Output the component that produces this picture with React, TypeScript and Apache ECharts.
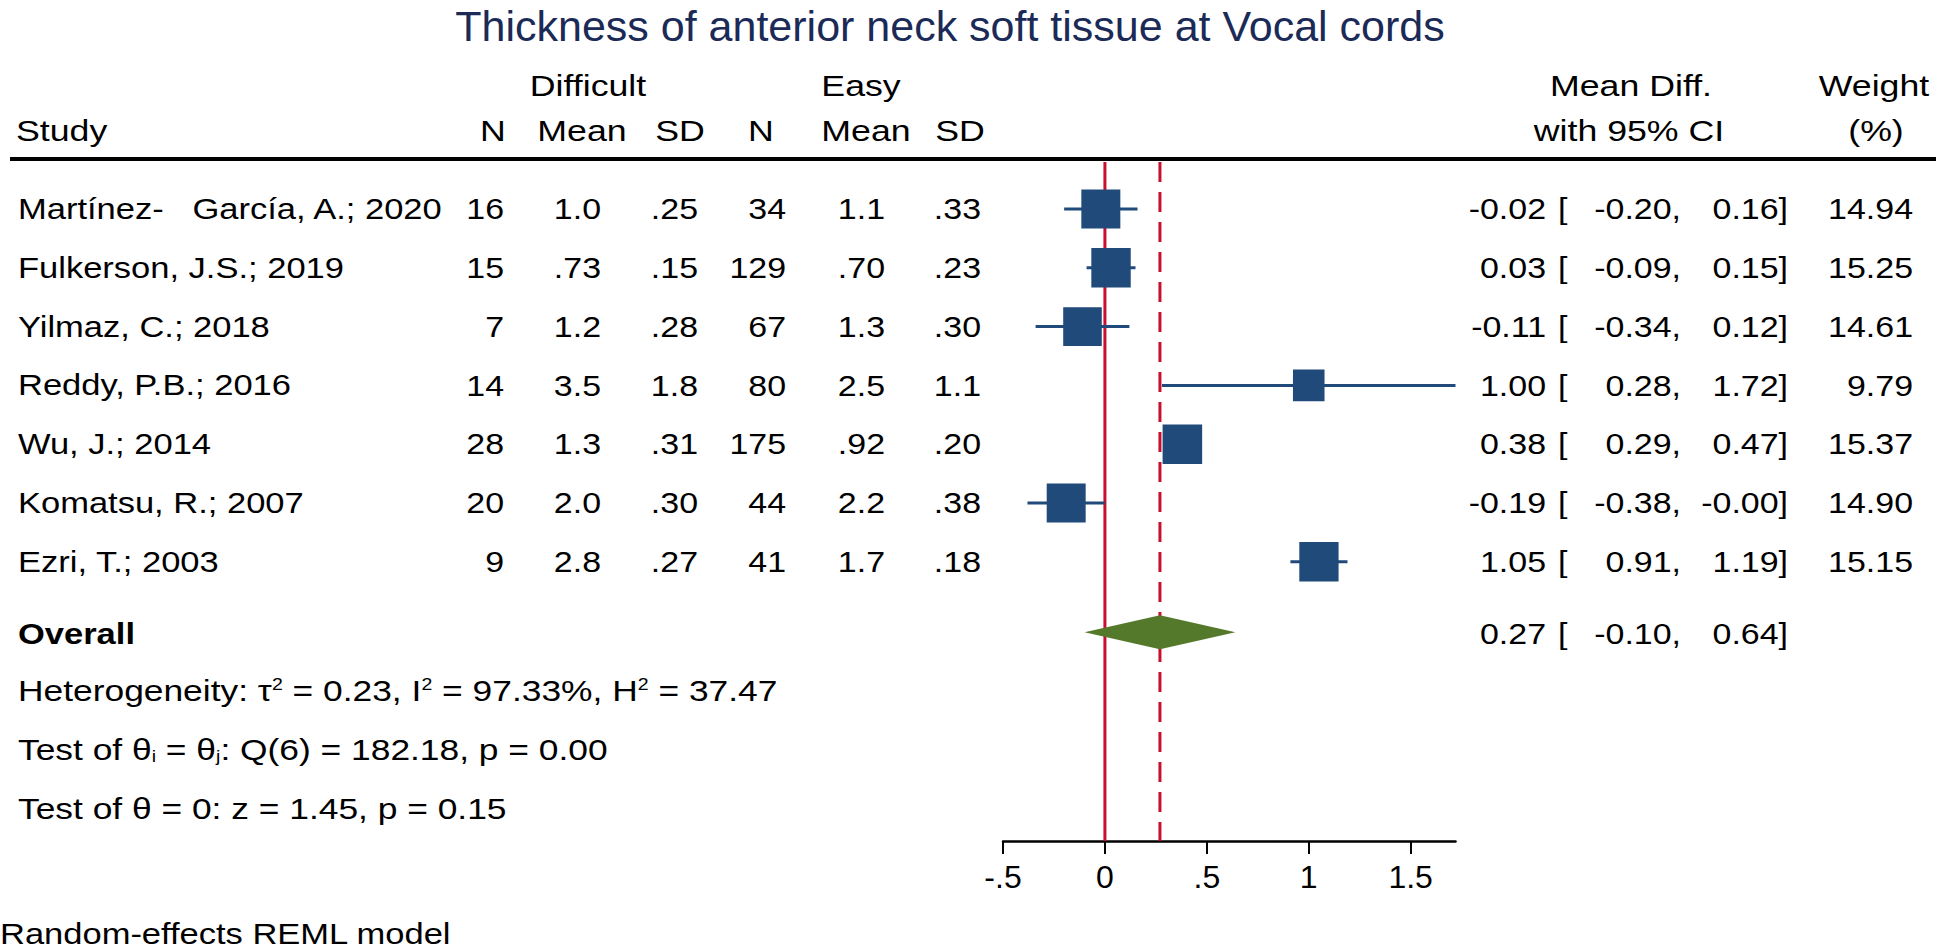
import React, { useEffect, useRef } from "react";
import * as echarts from "echarts";

// ---------- data ----------
const chartTitle = "Thickness of anterior neck soft tissue at Vocal cords";
const studies = [
  "Martínez-   García, A.; 2020",
  "Fulkerson, J.S.; 2019",
  "Yilmaz, C.; 2018",
  "Reddy, P.B.; 2016",
  "Wu, J.; 2014",
  "Komatsu, R.; 2007",
  "Ezri, T.; 2003",
];
const nDifficult = ["16", "15", "7", "14", "28", "20", "9"];
const meanDifficult = ["1.0", ".73", "1.2", "3.5", "1.3", "2.0", "2.8"];
const sdDifficult = [".25", ".15", ".28", "1.8", ".31", ".30", ".27"];
const nEasy = ["34", "129", "67", "80", "175", "44", "41"];
const meanEasy = ["1.1", ".70", "1.3", "2.5", ".92", "2.2", "1.7"];
const sdEasy = [".33", ".23", ".30", "1.1", ".20", ".38", ".18"];
const effects = [-0.02, 0.03, -0.11, 1.0, 0.38, -0.19, 1.05];
const lowers = [-0.2, -0.09, -0.34, 0.28, 0.29, -0.38, 0.91];
const uppers = [0.16, 0.15, 0.12, 1.72, 0.47, -0.0, 1.19];
const weights = [14.94, 15.25, 14.61, 9.79, 15.37, 14.9, 15.15];
const overallLabel = "Overall";
const overallEffect = 0.27;
const overallLower = -0.1;
const overallUpper = 0.64;
const refLines = [0, 0.27]; // no effect, overall estimate
const xTickValues = [-0.5, 0, 0.5, 1, 1.5];
const xTickLabels = ["-.5", "0", ".5", "1", "1.5"];
const headerTop = ["Difficult", "Easy", "Mean Diff.", "Weight"];
const headerBottom = ["Study", "N", "Mean", "SD", "N", "Mean", "SD", "with 95% CI", "(%)"];
const noteText = "Random-effects REML model";

// ---------- layout ----------
const W = 1946;
const H = 949;
const FONT = "'Liberation Sans', Arial, Helvetica, sans-serif";
const FS = 29;
const SX = 1.19;
const Y_MIN = 0.2;
const Y_MAX = 11.75;
const OVERALL_ROW = 8.2;
const STATS_ROWS = [9.2, 10.2, 11.2];
const BOX_COLOR = "#1f4a7a";
const RED = "#c8102e";
const DIAMOND = "#55792b";

function fmt(v: number) {
  const s = Math.abs(v).toFixed(2);
  return v < 0 || Object.is(v, -0) ? "-" + s : s;
}

function txt(x: number, y: number, text: string, align: string, extra: any = {}, sx = SX) {
  return {
    type: "text",
    x,
    y,
    scaleX: sx,
    scaleY: 1,
    style: {
      text,
      fill: "#000",
      fontSize: FS,
      fontFamily: FONT,
      align,
      textAlign: align,
      verticalAlign: "middle",
      textVerticalAlign: "middle",
      ...extra,
    },
  };
}

function ciTexts(y: number, est: number, lo: number, hi: number) {
  return [
    txt(1546, y, fmt(est), "right", {}, 1.17),
    txt(1558, y, "[", "left", {}, 1.17),
    txt(1681, y, fmt(lo) + ",", "right", {}, 1.17),
    txt(1788, y, fmt(hi) + "]", "right", {}, 1.17),
  ];
}

const subRich = {
  a: { fontSize: FS, fontFamily: FONT, fill: "#000", color: "#000" },
  s: { fontSize: 16, fontFamily: FONT, fill: "#000", color: "#000", verticalAlign: "top" },
  b: { fontSize: 16, fontFamily: FONT, fill: "#000", color: "#000", verticalAlign: "bottom" },
};
const statsLines = [
  "{a|Heterogeneity: τ}{s|2}{a| = 0.23, I}{s|2}{a| = 97.33%, H}{s|2}{a| = 37.47}",
  "{a|Test of θ}{b|i}{a| = θ}{b|j}{a|: Q(6) = 182.18, p = 0.00}",
  "{a|Test of θ = 0: z = 1.45, p = 0.15}",
];

export default function App() {
  const ref = useRef<HTMLDivElement>(null);
  useEffect(() => {
    if (!ref.current) return;
    const chart = echarts.init(ref.current, null, { renderer: "svg" });
    const rows = studies.map((_, i) => i + 1);

    const option: any = {
      animation: false,
      backgroundColor: "#fff",
      grid: { left: 1003, right: W - 1455.5, top: 162, bottom: H - 841, containLabel: false },
      xAxis: {
        type: "value",
        min: -0.5,
        max: 1.72,
        interval: 0.5,
        position: "bottom",
        splitLine: { show: false },
        axisLine: { show: true, lineStyle: { color: "#000", width: 2.5 } },
        axisTick: {
          show: true,
          customValues: xTickValues,
          length: 13,
          inside: false,
          lineStyle: { color: "#000", width: 2 },
        },
        axisLabel: {
          customValues: xTickValues,
          formatter: (v: number) => {
            const k = xTickValues.findIndex((t) => Math.abs(t - v) < 1e-9);
            return k >= 0 ? xTickLabels[k] : "";
          },
          color: "#000",
          fontSize: 32,
          fontFamily: FONT,
          margin: 20,
        },
      },
      yAxis: { type: "value", min: Y_MIN, max: Y_MAX, inverse: true, show: false },
      graphic: [
        {
          type: "text",
          x: 950,
          y: 26,
          style: {
            text: chartTitle,
            fill: "#1b2a57",
            fontSize: 43,
            lineHeight: 44,
            fontFamily: FONT,
            align: "center",
            textAlign: "center",
            verticalAlign: "middle",
            textVerticalAlign: "middle",
          },
        },
        txt(588, 86, headerTop[0], "center", { fontSize: 30 }),
        txt(861, 86, headerTop[1], "center", { fontSize: 30 }),
        txt(1631, 86, headerTop[2], "center", { fontSize: 30 }),
        txt(1874, 86, headerTop[3], "center", { fontSize: 30 }),
        txt(16, 131, headerBottom[0], "left", { fontSize: 30 }),
        txt(493, 131, headerBottom[1], "center", { fontSize: 30 }),
        txt(582, 131, headerBottom[2], "center", { fontSize: 30 }),
        txt(680, 131, headerBottom[3], "center", { fontSize: 30 }),
        txt(761, 131, headerBottom[4], "center", { fontSize: 30 }),
        txt(866, 131, headerBottom[5], "center", { fontSize: 30 }),
        txt(960, 131, headerBottom[6], "center", { fontSize: 30 }),
        txt(1629, 131, headerBottom[7], "center", { fontSize: 30 }),
        txt(1876, 131, headerBottom[8], "center", { fontSize: 30 }),
        {
          type: "line",
          shape: { x1: 10, y1: 159, x2: 1936, y2: 159 },
          style: { stroke: "#000", lineWidth: 4 },
        },
        txt(0, 934, noteText, "left"),
      ],
      series: [
        // reference lines
        {
          type: "custom",
          z: 1,
          silent: true,
          clip: false,
          data: refLines.map((v, i) => [v, i]),
          renderItem: (params: any, api: any) => {
            const x = api.value(0);
            const p1 = api.coord([x, Y_MIN]);
            const p2 = api.coord([x, Y_MAX]);
            return {
              type: "line",
              shape: { x1: p1[0], y1: p1[1], x2: p2[0], y2: p2[1] },
              style: {
                stroke: RED,
                lineWidth: 3,
                lineDash: api.value(1) === 1 ? [20, 10] : null,
              },
            };
          },
        },
        // confidence intervals
        {
          type: "custom",
          z: 2,
          silent: true,
          clip: false,
          data: rows.map((r, i) => [lowers[i], uppers[i], r]),
          encode: { x: [0, 1], y: 2 },
          renderItem: (params: any, api: any) => {
            const a = api.coord([api.value(0), api.value(2)]);
            const b = api.coord([api.value(1), api.value(2)]);
            return {
              type: "line",
              shape: { x1: a[0], y1: a[1], x2: b[0], y2: b[1] },
              style: { stroke: BOX_COLOR, lineWidth: 3 },
            };
          },
        },
        // study boxes
        {
          type: "scatter",
          z: 3,
          silent: true,
          symbol: "rect",
          symbolSize: (val: number[]) => 10.09 * Math.sqrt(val[2]),
          itemStyle: { color: BOX_COLOR, opacity: 1 },
          data: rows.map((r, i) => [effects[i], r, weights[i]]),
        },
        // overall diamond
        {
          type: "custom",
          z: 3,
          silent: true,
          clip: false,
          data: [[overallEffect, OVERALL_ROW, overallLower, overallUpper]],
          renderItem: (params: any, api: any) => {
            const c = api.coord([api.value(0), api.value(1)]);
            const l = api.coord([api.value(2), api.value(1)]);
            const r = api.coord([api.value(3), api.value(1)]);
            return {
              type: "polygon",
              shape: { points: [l, [c[0], c[1] - 17], r, [c[0], c[1] + 17]] },
              style: { fill: DIAMOND },
            };
          },
        },
        // study table text
        {
          type: "custom",
          z: 4,
          silent: true,
          clip: false,
          data: rows.map((r, i) => [0, r, i]),
          renderItem: (params: any, api: any) => {
            const i = api.value(2);
            const y = api.coord([0, api.value(1)])[1];
            return {
              type: "group",
              children: [
                txt(18, y, studies[i], "left"),
                txt(504, y, nDifficult[i], "right", {}, 1.17),
                txt(601, y, meanDifficult[i], "right", {}, 1.17),
                txt(698, y, sdDifficult[i], "right", {}, 1.17),
                txt(786, y, nEasy[i], "right", {}, 1.17),
                txt(885, y, meanEasy[i], "right", {}, 1.17),
                txt(981, y, sdEasy[i], "right", {}, 1.17),
                ...ciTexts(y, effects[i], lowers[i], uppers[i]),
                txt(1913, y, weights[i].toFixed(2), "right", {}, 1.17),
              ],
            };
          },
        },
        // overall text
        {
          type: "custom",
          z: 4,
          silent: true,
          clip: false,
          data: [[0, OVERALL_ROW]],
          renderItem: (params: any, api: any) => {
            const y = api.coord([0, api.value(1)])[1];
            return {
              type: "group",
              children: [
                txt(18, y + 2, overallLabel, "left", { fontWeight: "bold" }),
                ...ciTexts(y + 2, overallEffect, overallLower, overallUpper),
              ],
            };
          },
        },
        // heterogeneity and tests
        {
          type: "custom",
          z: 4,
          silent: true,
          clip: false,
          data: STATS_ROWS.map((r, i) => [0, r, i]),
          renderItem: (params: any, api: any) => {
            const y = api.coord([0, api.value(1)])[1];
            const t: any = txt(18, y, statsLines[api.value(2)], "left", {}, 1.22);
            t.style.rich = subRich;
            return t;
          },
        },
      ],
    };
    chart.setOption(option);
    return () => chart.dispose();
  }, []);
  return (
    <div
      ref={ref}
      style={{ position: "absolute", left: 0, top: 0, width: W, height: H, background: "#fff" }}
    />
  );
}
